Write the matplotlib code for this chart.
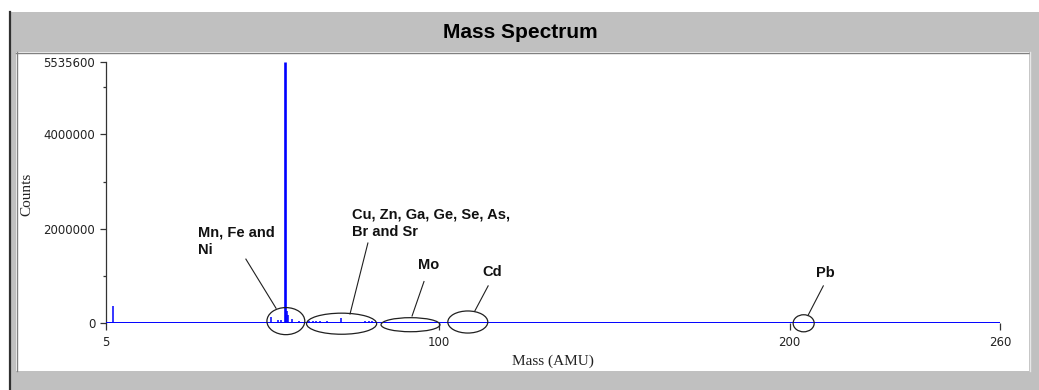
import matplotlib
matplotlib.use("Agg")
import numpy as np
import matplotlib.pyplot as plt
from matplotlib.patches import Ellipse, Rectangle

# stick spectrum: mass (AMU) and counts
mass = [6, 7,
        52, 54, 55, 56, 56.5, 57, 58, 60,
        63, 64, 65, 66, 68, 72, 79, 80, 81,
        203, 204, 205]
counts = [20000, 350000,
          130000, 70000, 60000, 5535600, 250000, 160000, 90000, 40000,
          50000, 45000, 40000, 40000, 50000, 110000, 45000, 50000, 45000,
          30000, 30000, 30000]

xticks = [5, 100, 200, 260]
yticks = [0, 2000000, 4000000, 5535600]
yminor = [1000000, 3000000, 5000000]

groups = ["Mn, Fe and\nNi", "Cu, Zn, Ga, Ge, Se, As,\nBr and Sr", "Mo", "Cd", "Pb"]

W, H = 1039, 390
fig = plt.figure(figsize=(W / 100, H / 100), dpi=100, facecolor="white")

# window chrome, drawn in pixel units
bg = fig.add_axes([0, 0, 1, 1])
bg.set_xlim(0, W)
bg.set_ylim(H, 0)
bg.axis("off")
bg.add_patch(Rectangle((10, 12), W - 10, H - 12, facecolor="#c0c0c0", edgecolor="none"))
bg.plot([10, 10], [12, H], color="#303030", lw=1.6)
bg.add_patch(Rectangle((16, 52), 1013, 319, facecolor="white", edgecolor="none"))
bg.plot([16, 1029], [52.5, 52.5], color="#808080", lw=1.0)
bg.plot([16.5, 16.5], [52, 371], color="#808080", lw=1.0)
bg.plot([1029.5, 1029.5], [52, 371], color="#e8e8e8", lw=1.0)
bg.text(520, 33, "Mass Spectrum", ha="center", va="center",
        fontsize=15, fontweight="bold", family="Liberation Sans")

ax = fig.add_axes([106 / W, (H - 323) / H, 894 / W, 261 / H])
ax.patch.set_visible(False)
ax.set_xlim(5, 260)
ax.set_ylim(0, 5535600)

ax.axhline(0, color="#0000ff", lw=1.4, zorder=3)
widths = [1.9 if c == max(counts) else 1.1 for c in counts]
ax.vlines(mass, 0, counts, colors="#0000ff", linewidths=widths, zorder=3)

for s in ["top", "right", "bottom"]:
    ax.spines[s].set_visible(False)
ax.spines["left"].set_color("#333333")
ax.spines["left"].set_linewidth(0.9)

ax.set_xticks(xticks)
ax.set_xticklabels([str(t) for t in xticks])
ax.set_yticks(yticks)
ax.set_yticklabels([str(t) for t in yticks])
ax.set_yticks(yminor, minor=True)
ax.tick_params(axis="x", direction="out", length=5, width=0.9, color="#333333",
               pad=4, labelsize=8.5, labelcolor="#222222")
ax.tick_params(axis="y", which="major", direction="out", length=4.3, width=0.9,
               color="#333333", pad=3.5, labelsize=8.5, labelcolor="#222222")
ax.tick_params(axis="y", which="minor", direction="out", length=2.2, width=0.9,
               color="#333333")

ax.set_xlabel("Mass (AMU)", family="Liberation Serif", fontsize=11, color="#222222")
ax.xaxis.set_label_coords(0.5, -0.146)
ax.xaxis.label.set_va("center")
ax.set_ylabel("Counts", family="Liberation Serif", fontsize=11, color="#222222")
ax.yaxis.set_label_coords(-0.088, 0.494)
ax.yaxis.label.set_va("center")

# element groups: circle, leader line and label
ellipses = [(56.3, 40000, 10.8, 574000),
            (72.2, -15000, 20.0, 447000),
            (91.85, -36000, 16.8, 298000),
            (108.2, 21000, 11.4, 468000),
            (204.0, -6000, 6.0, 362000)]
leaders = [((44.9, 1355000), (53.5, 313000)),
           ((79.7, 1696000), (74.6, 191000)),
           ((95.7, 879000), (92.3, 149000)),
           ((114.0, 787000), (110.2, 255000)),
           ((209.6, 787000), (205.3, 170000))]
label_pos = [(31.2, 2060000), (75.1, 2440000), (94.0, 1368000),
             (112.4, 1228000), (207.5, 1213000)]

for name, (cx, cy, ew, eh), (p0, p1), (tx, ty) in zip(groups, ellipses, leaders, label_pos):
    ax.add_patch(Ellipse((cx, cy), ew, eh, facecolor="none", edgecolor="#202020",
                         lw=0.9, clip_on=False, zorder=4))
    ax.plot([p0[0], p1[0]], [p0[1], p1[1]], color="#202020", lw=0.8,
            clip_on=False, zorder=4)
    ax.text(tx, ty, name, ha="left", va="top", fontsize=10.5, fontweight="bold",
            family="Liberation Sans", linespacing=1.3, color="#111111")

fig.savefig("out.png", dpi=100, facecolor=fig.get_facecolor())
